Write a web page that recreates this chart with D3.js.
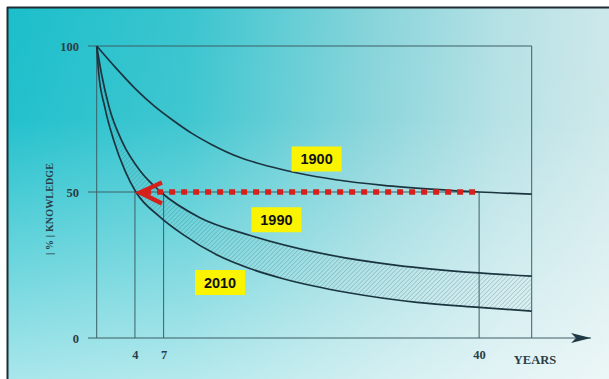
<!DOCTYPE html>
<html>
<head>
<meta charset="utf-8">
<script src="https://cdn.jsdelivr.net/npm/d3@7"></script>
<style>
  html, body { margin: 0; padding: 0; background: #ffffff; }
  svg { display: block; }
</style>
</head>
<body>
<svg id="chart" width="609" height="379"></svg>
<script>
// ---- data ----
const years1900 = [0, 2, 4, 6, 8, 10, 12, 15, 18, 21, 25, 30, 35, 40, 45.5];
const know1900  = [100, 92.5, 85.5, 79.5, 74.5, 70, 66.3, 61.8, 58.8, 56.5, 54.2, 52.3, 51, 50, 49.3];

const years1990 = [0, 0.5, 1.3, 2.7, 4.6, 6.7, 10.8, 16, 23, 31.4, 40, 45.5];
const know1990  = [100, 90.5, 79, 67, 57, 50, 41.2, 35.2, 29.3, 24.9, 22.3, 21.2];

const years2010 = [0, 0.2, 0.85, 1.8, 3.0, 4.1, 6.6, 9, 12.6, 16, 19.5, 26.5, 33.5, 40, 45.5];
const know2010  = [100, 91, 79, 67.5, 57, 50, 41.5, 35.5, 28.4, 23.8, 20.3, 15.4, 12.2, 10.5, 9.2];

const xTickValues = [4, 7, 40];
const yTickValues = [0, 50, 100];
const xAxisTitle = "YEARS";
const yAxisTitle = "| % | KNOWLEDGE";

const seriesLabels = ["1900", "1990", "2010"];
const labelYears   = [23.0, 18.8, 12.9];
const labelValues  = [61.3, 40.5, 19.0];

const halfLevel = 50;
const arrowFromYear = 40;
const arrowToYear = 4.5;
const xMax = 45.5;

(function () {
// ---- layout ----
const svg = d3.select("#chart");
const W = 609, H = 379;
const mLeft = 96.7, mRight = 531.7, mTop = 46, mBottom = 338;
const axisStartX = 88;

const x = d3.scaleLinear().domain([0, xMax]).range([mLeft, mRight]);
const y = d3.scaleLinear().domain([0, 100]).range([mBottom, mTop]);

// ---- background ----
const defs = svg.append("defs");
const gH = defs.append("linearGradient").attr("id", "bgH").attr("x1", "0").attr("x2", "1").attr("y1", "0").attr("y2", "0");
[["0", "#1bbfcb"], ["0.3", "#3ac5cf"], ["0.6", "#86d4da"], ["0.82", "#b5e1e5"], ["1", "#cde8ea"]]
  .forEach(([o, c]) => gH.append("stop").attr("offset", o).attr("stop-color", c));
const gV = defs.append("linearGradient").attr("id", "bgV").attr("x1", "0").attr("x2", "0").attr("y1", "0").attr("y2", "1");
[["0", 0], ["0.3", 0.03], ["1", 0.62]]
  .forEach(([o, a]) => gV.append("stop").attr("offset", o).attr("stop-color", "#ffffff").attr("stop-opacity", a));

const hatch = defs.append("pattern").attr("id", "hatch").attr("patternUnits", "userSpaceOnUse")
  .attr("width", 3.2).attr("height", 3.2).attr("patternTransform", "rotate(45)");
hatch.append("line").attr("x1", 0).attr("y1", 0).attr("x2", 0).attr("y2", 3.2)
  .attr("stroke", "#45747c").attr("stroke-width", 0.7).attr("stroke-opacity", 0.75);

const marker = defs.append("marker").attr("id", "axArrow").attr("viewBox", "0 0 20 10")
  .attr("refX", 20).attr("refY", 5).attr("markerWidth", 20).attr("markerHeight", 10)
  .attr("markerUnits", "userSpaceOnUse").attr("orient", "auto");
marker.append("path").attr("d", "M0,0 L20,5 L0,10 L5,5 Z").attr("fill", "#1f3a44");

svg.append("rect").attr("x", 7).attr("y", 7).attr("width", W - 7).attr("height", H - 7).attr("fill", "url(#bgH)");
svg.append("rect").attr("x", 7).attr("y", 7).attr("width", W - 7).attr("height", H - 7).attr("fill", "url(#bgV)");
// frame border of the photo
svg.append("line").attr("x1", 7).attr("x2", W).attr("y1", 7.5).attr("y2", 7.5).attr("stroke", "#1e2d33").attr("stroke-width", 2);
svg.append("line").attr("x1", 7.5).attr("x2", 7.5).attr("y1", 7).attr("y2", H).attr("stroke", "#1e2d33").attr("stroke-width", 2);

// ---- series helpers ----
const toPts = (xs, ys) => xs.map((t, i) => [t, ys[i]]);
const s1900 = toPts(years1900, know1900);
const s1990 = toPts(years1990, know1990);
const s2010 = toPts(years2010, know2010);

const line = d3.line().x(d => x(d[0])).y(d => y(d[1])).curve(d3.curveMonotoneX);

// ---- hatched band between 1990 and 2010 ----
const bandPath = line(s1990) + "L" + line(s2010.slice().reverse()).slice(1) + "Z";
svg.append("path").attr("d", bandPath).attr("fill", "url(#hatch)").attr("stroke", "none");

// ---- frame / grid lines ----
const gridColor = "#3d5f67";
const g = svg.append("g").attr("stroke", gridColor).attr("stroke-width", 1).attr("fill", "none");
g.append("line").attr("x1", axisStartX).attr("x2", x(xMax)).attr("y1", y(100)).attr("y2", y(100));
g.append("line").attr("x1", x(xMax)).attr("x2", x(xMax)).attr("y1", y(100)).attr("y2", y(0));
g.append("line").attr("x1", x(0)).attr("x2", x(0)).attr("y1", y(100)).attr("y2", y(0));
g.append("line").attr("x1", axisStartX).attr("x2", x(arrowFromYear)).attr("y1", y(halfLevel)).attr("y2", y(halfLevel));
xTickValues.forEach(t => {
  g.append("line").attr("x1", x(t)).attr("x2", x(t)).attr("y1", y(halfLevel)).attr("y2", y(0));
});
// x axis with arrow
svg.append("line").attr("x1", axisStartX).attr("x2", 591).attr("y1", y(0)).attr("y2", y(0))
  .attr("stroke", gridColor).attr("stroke-width", 1.2).attr("marker-end", "url(#axArrow)");

// ---- curves ----
[s1900, s1990, s2010].forEach(s => {
  svg.append("path").attr("d", line(s)).attr("fill", "none")
    .attr("stroke", "#1b3540").attr("stroke-width", 1.7);
});

// ---- axes labels ----
const tickFont = "'Liberation Serif', 'Times New Roman', serif";
const yAxis = d3.axisLeft(y).tickValues(yTickValues).tickSize(0).tickPadding(9).tickFormat(d3.format("d"));
const ya = svg.append("g").attr("transform", `translate(${axisStartX},0)`).call(yAxis);
ya.select(".domain").remove();
ya.selectAll("text").attr("font-family", tickFont).attr("font-weight", "bold").attr("font-size", 12.5).attr("fill", "#2a3e47");

const xAxis = d3.axisBottom(x).tickValues(xTickValues).tickSize(0).tickPadding(12).tickFormat(d3.format("d"));
const xa = svg.append("g").attr("transform", `translate(0,${y(0)})`).call(xAxis);
xa.select(".domain").remove();
xa.selectAll("text").attr("font-family", tickFont).attr("font-weight", "bold").attr("font-size", 12.5).attr("fill", "#2a3e47");

svg.append("text").attr("x", 535).attr("y", 364).attr("text-anchor", "middle")
  .attr("font-family", tickFont).attr("font-weight", "bold").attr("font-size", 12.5).attr("fill", "#2a3e47")
  .text(xAxisTitle);

svg.append("text").attr("transform", "translate(53,209) rotate(-90)").attr("text-anchor", "middle")
  .attr("font-family", tickFont).attr("font-weight", "bold").attr("font-size", 10).attr("fill", "#2a3e47")
  .attr("textLength", 92).attr("lengthAdjust", "spacing")
  .text(yAxisTitle);

// ---- red dotted arrow ----
svg.append("line").attr("x1", x(arrowFromYear) - 4).attr("x2", x(arrowToYear) + 4)
  .attr("y1", y(halfLevel)).attr("y2", y(halfLevel))
  .attr("stroke", "#d5201c").attr("stroke-width", 5.5).attr("stroke-dasharray", "6,6");
const tipX = x(4) + 5, tipY = y(halfLevel) + 0.5;
svg.append("path")
  .attr("d", `M${tipX + 22},${tipY - 10} L${tipX},${tipY} L${tipX + 22},${tipY + 11}`)
  .attr("fill", "none").attr("stroke", "#d5201c").attr("stroke-width", 4.5)
  .attr("stroke-linejoin", "miter").attr("stroke-linecap", "butt");

// ---- series labels ----
seriesLabels.forEach((lab, i) => {
  const cx = x(labelYears[i]), cy = y(labelValues[i]);
  svg.append("rect").attr("x", cx - 25).attr("y", cy - 12.5).attr("width", 50).attr("height", 25).attr("fill", "#fbf400");
  svg.append("text").attr("x", cx).attr("y", cy + 5).attr("text-anchor", "middle")
    .attr("font-family", "'Liberation Sans', Arial, sans-serif").attr("font-weight", "bold").attr("font-size", 14.5)
    .attr("fill", "#111").text(lab);
});
})();
</script>
</body>
</html>
